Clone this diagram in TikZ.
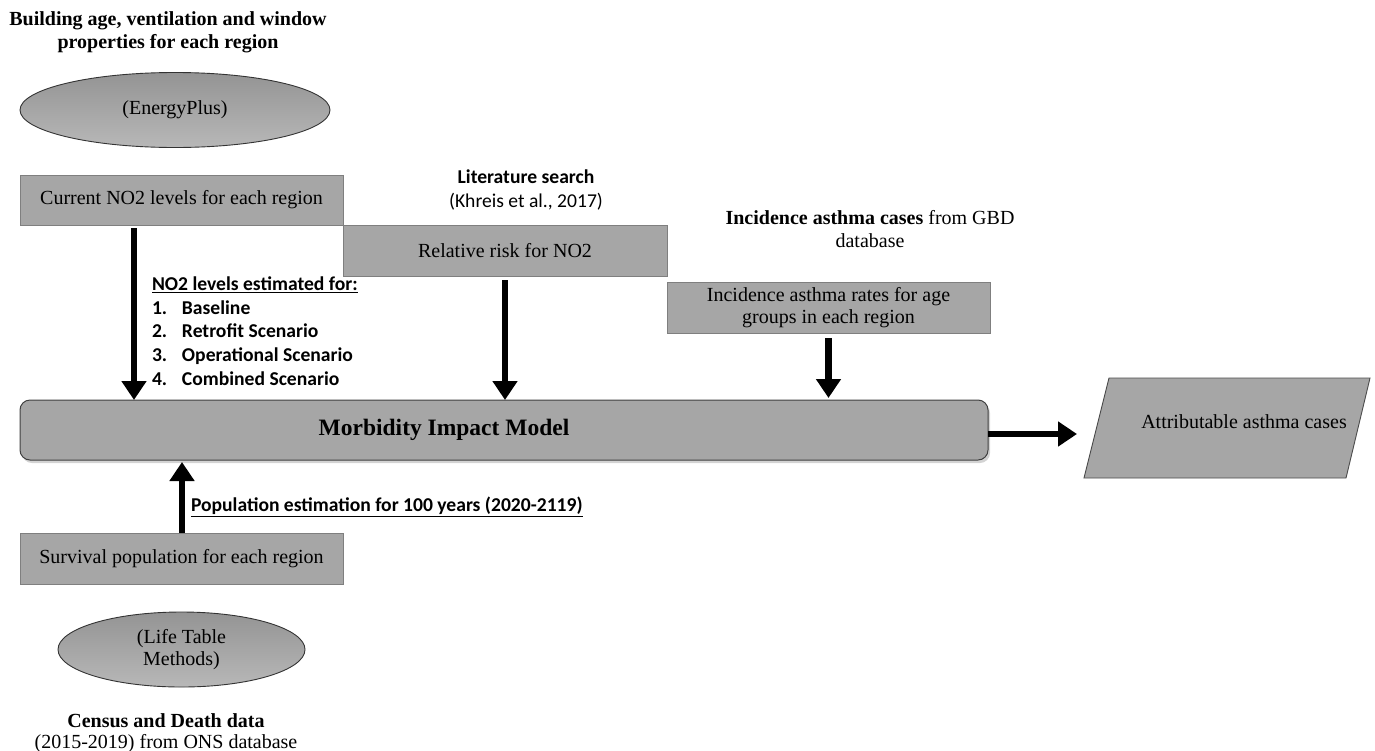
\documentclass[tikz,border=0pt]{standalone}
\usepackage{fontspec}
\setmainfont{Liberation Serif}
\newfontfamily\calib{Carlito}
\usetikzlibrary{shapes.geometric,arrows.meta,shadows}
\definecolor{boxgray}{HTML}{A6A6A6}
\definecolor{boxline}{HTML}{7F7F7F}
\begin{document}
\begin{tikzpicture}[x=1pt,y=-1pt,
  every node/.style={inner sep=0pt, outer sep=0pt},
  gbox/.style={draw=boxline, line width=0.9pt, fill=boxgray, minimum height=50pt, font=\fontsize{20}{22}\selectfont, align=center},
  oval/.style={ellipse, draw=black!80, line width=0.9pt, top color=black!42, bottom color=black!28, font=\fontsize{20}{22}\selectfont, align=center},
  lbl/.style={font=\fontsize{20}{23}\selectfont\bfseries, align=center},
  slbl/.style={font=\calib\fontsize{19.6}{23.7}\selectfont\bfseries, align=left},
  arr/.style={line width=6.5pt, -{Triangle[width=24pt,length=19pt]}}
]
\useasboundingbox (0,0) rectangle (1375,750);
% top left
\node[lbl] (title) at (168,32.5) {Building age, ventilation and window\\ properties for each region};
\node[oval, minimum width=310pt, minimum height=75pt] (eplus) at (175,110) {(EnergyPlus)};
\node[gbox, minimum width=323pt] (cur) at (181.5,200) {Current NO2 levels for each region};
% literature
\node[font=\calib\fontsize{19.6}{24}\selectfont, align=center] (lit) at (526,189.5) {\textbf{Literature search}\\(Khreis et al., 2017)};
\node[gbox, minimum width=324pt, minimum height=51pt] (rr) at (505,250.5) {Relative risk for NO2};
% incidence
\node[font=\fontsize{20}{23}\selectfont, align=center] (inc) at (870,229) {\textbf{Incidence asthma cases} from GBD\\database};
\node[gbox, minimum width=323pt, minimum height=51pt] (ir) at (828.5,307.5) {Incidence asthma rates for age\\groups in each region};
% main
\node[draw=black!75, line width=1pt, fill=boxgray, rounded corners=10pt, minimum width=968pt, minimum height=60pt, drop shadow={shadow xshift=2pt, shadow yshift=-3pt, opacity=0.35}] (main) at (504,430) {};
\node[font=\fontsize{23.5}{26}\selectfont\bfseries] (mainlbl) at (444,430) {Morbidity Impact Model};
% output parallelogram
\coordinate (o1) at (1109,378);
\coordinate (o2) at (1370,378);
\coordinate (o3) at (1346,478);
\coordinate (o4) at (1084,478);
\coordinate (outw) at (1077,434);
\draw[draw=black!70, line width=0.9pt, fill=boxgray] (o1) -- (o2) -- (o3) -- (o4) -- cycle;
\node[font=\fontsize{20}{22}\selectfont] (outlbl) at (1244,422) {Attributable asthma cases};
% NO2 list
\node[slbl, anchor=west] (no2) at (152,331) {\underline{NO2 levels estimated for:}\\
\makebox[30pt][l]{1.}Baseline\\
\makebox[30pt][l]{2.}Retrofit Scenario\\
\makebox[30pt][l]{3.}Operational Scenario\\
\makebox[30pt][l]{4.}Combined Scenario};
% bottom
\node[gbox, minimum width=323pt, minimum height=51pt] (surv) at (181.5,558.5) {Survival population for each region};
\node[slbl, anchor=west] (pop) at (191,507) {\underline{Population estimation for 100 years (2020-2119)}};
\node[oval, minimum width=247pt, minimum height=75pt] (life) at (181.5,649.5) {(Life Table\\Methods)};
\node[font=\fontsize{20}{21}\selectfont, align=center] (census) at (166,733) {\textbf{Census and Death data}\\(2015-2019) from ONS database};
% arrows
\draw[arr] ([xshift=114pt,yshift=-3pt]cur.south west) -- ([xshift=114pt]cur.south west |- main.north);
\draw[arr] ([yshift=-4pt]rr.south) -- (rr.south |- main.north);
\draw[arr] ([yshift=-5pt]ir.south) -- ([yshift=2pt]ir.south |- main.north);
\draw[arr] ([xshift=0.5pt]surv.north) -- ([xshift=0.5pt,yshift=-2pt]surv.north |- main.south);
\draw[arr] (main.east |- outw) -- (outw);
\end{tikzpicture}
\end{document}
